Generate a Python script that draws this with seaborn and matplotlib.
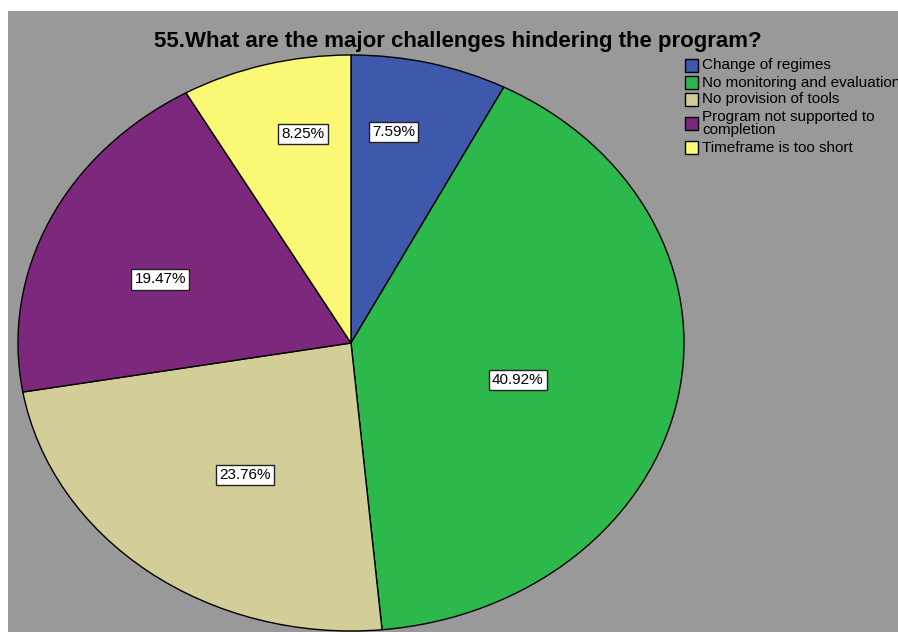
import math
import textwrap
import matplotlib
matplotlib.use("Agg")
import matplotlib.pyplot as plt
from matplotlib.patches import Rectangle
import seaborn as sns

# ---- data ----
title = "55.What are the major challenges hindering the program?"
categories = [
    "Change of regimes",
    "No monitoring and evaluation",
    "No provision of tools",
    "Program not supported to completion",
    "Timeframe is too short",
]
percents = [7.59, 40.92, 23.76, 19.47, 8.25]
colors = ["#3E58AC", "#2DB84B", "#D3CE97", "#7B287D", "#FBF876"]

# ---- layout/style (not data) ----
label_radius = [0.744, 0.517, 0.558, 0.614, 0.740]
label_angle_shift = [3.7, -3.3, 2.6, 4.2, -3.6]
W, H = 898, 632
GRAY = "#999999"

sns.set_theme(style="white")
plt.rcParams["font.family"] = ["Liberation Sans", "DejaVu Sans"]
palette = sns.color_palette(colors)

fig = plt.figure(figsize=(W / 100, H / 100), dpi=100)
fig.patch.set_facecolor("white")
ax = fig.add_axes([8 / W, 0, (W - 8) / W, (H - 11) / H])

wedges, _ = ax.pie(
    percents,
    colors=palette,
    startangle=90,
    counterclock=False,
    wedgeprops=dict(edgecolor="black", linewidth=1.0),
)
ax.set_aspect("auto")
ax.set_frame_on(True)
for s in ax.spines.values():
    s.set_visible(False)
ax.set_facecolor(GRAY)

cx, cy, rx, ry = 351, 343, 333, 288
ax.set_xlim(-1 - (cx - rx - 8) / rx, -1 + (W - (cx - rx)) / rx)
ax.set_ylim(-(H - cy) / ry, 1 + (cy - ry - 11) / ry)
ax.set_xticks([])
ax.set_yticks([])

for w, p, r, sh in zip(wedges, percents, label_radius, label_angle_shift):
    ang = math.radians((w.theta1 + w.theta2) / 2 + sh)
    ax.text(r * math.cos(ang), r * math.sin(ang), f"{p:.2f}%",
            ha="center", va="center", fontsize=11, color="black",
            bbox=dict(boxstyle="square,pad=0.2", fc="white", ec="#222222", lw=1.0))

fig.text(458 / W, 1 - 41 / H, title, ha="center", va="center",
         fontsize=16, fontweight="bold", color="black")

# legend
line_h = 14
pad = 3
y = 57
for cat, col in zip(categories, palette):
    lines = textwrap.wrap(cat, 24) if len(cat) > 30 else [cat]
    h = len(lines) * line_h + pad
    yc = y + h / 2
    fig.patches.append(Rectangle((685 / W, 1 - (yc + 6.5) / H), 13 / W, 13 / H,
                                 transform=fig.transFigure, fc=col, ec="black", lw=1.0))
    fig.text(702 / W, 1 - yc / H, "\n".join(lines), ha="left", va="center",
             fontsize=11, linespacing=0.92, color="black")
    y += h

fig.savefig("out.png", dpi=100, facecolor="white")
